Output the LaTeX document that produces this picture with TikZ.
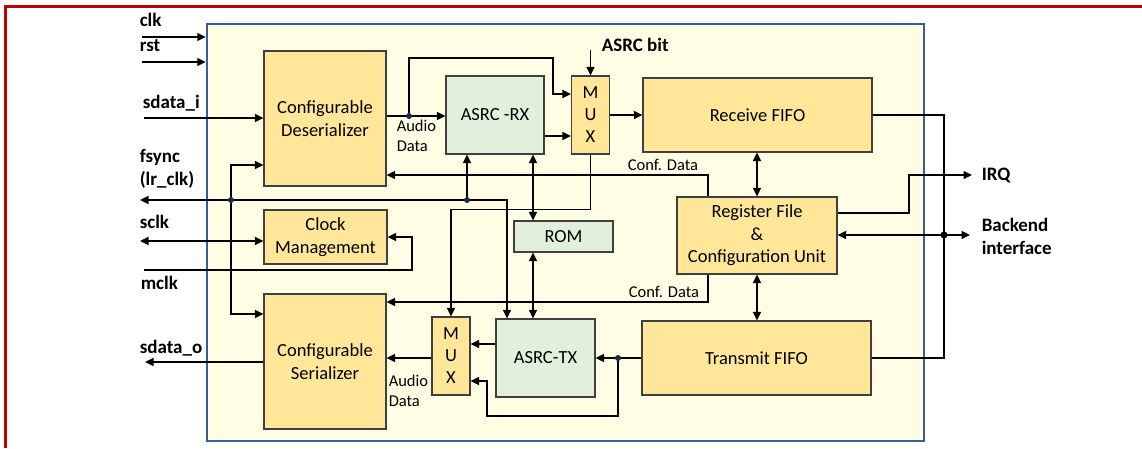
\documentclass[tikz,border=0pt]{standalone}
\usepackage{fontspec}
\setmainfont{Carlito}
\usepackage{xcolor}
\usepackage{tikz}
\usetikzlibrary{arrows.meta}
\definecolor{blockfill}{HTML}{FFE699}
\definecolor{asrcfill}{HTML}{E2EFDA}
\definecolor{corefill}{HTML}{FFFEE4}
\definecolor{coreline}{HTML}{3A5C9C}
\definecolor{frameline}{HTML}{C00000}
\definecolor{blockline}{HTML}{3F3F3F}
\definecolor{dotfill}{HTML}{1B2A4A}
\tikzset{
    blocknode/.style = {rectangle, draw=blockline, fill=blockfill, line width=1.1pt, align=center, inner sep=0pt, font=\fontsize{18.5}{22.5}\selectfont},
    asrcnode/.style = {blocknode, fill=asrcfill},
    muxnode/.style = {blocknode, minimum width=38pt, minimum height=78pt, font=\fontsize{18.5}{22}\selectfont},
    pinlabel/.style = {anchor=west, inner sep=0pt, align=left, font=\fontsize{19}{23}\selectfont\bfseries},
    smalllabel/.style = {anchor=west, inner sep=0pt, align=left, font=\fontsize{16.5}{19.5}\selectfont},
}
\begin{document}
\begin{tikzpicture}[
	x=1pt, y=-1pt,
	line width=1.5pt,
	>={Triangle[length=8.5pt,width=8pt]}
]
\tikzset{
    wire/.style = {-},
    sig/.style = {->},
    sigb/.style = {<->},
    jdot/.style = {circle, fill=dotfill, inner sep=0pt, minimum size=6pt}
}
\useasboundingbox (0,0) rectangle (1142,448);
\draw[frameline, line width=3pt] (5.5,448) -- (5.5,6) -- (1142,6);
\node[rectangle, draw=coreline, fill=corefill, line width=2.5pt, minimum width=717pt, minimum height=417pt, inner sep=0pt] at (565.5,232.5) (core) {};
%
\node[blocknode, minimum width=122pt, minimum height=135pt] at (325,118.5) (deser) {Configurable\\Deserializer};
\node[blocknode, minimum width=123pt, minimum height=54pt] at (325.5,237) (clkm) {Clock\\Management};
\node[blocknode, minimum width=122pt, minimum height=135pt] at (325,361.5) (ser) {Configurable\\Serializer};
\node[asrcnode, minimum width=98pt, minimum height=78pt] at (495,115) (asrcrx) {ASRC -RX};
\node[muxnode] at (590.5,115) (muxrx) {M\\U\\X};
\node[blocknode, minimum width=229pt, minimum height=74pt] at (757.5,115) (rxfifo) {Receive FIFO};
\node[asrcnode, minimum width=99pt, minimum height=31pt] at (563.5,236.5) (rom) {ROM};
\node[blocknode, minimum width=160pt, minimum height=77pt] at (757,235.5) (regfile) {Register File\\\&\\Configuration Unit};
\node[muxnode] at (451,356) (muxtx) {M\\U\\X};
\node[asrcnode, minimum width=99pt, minimum height=78pt] at (545.5,358) (asrctx) {ASRC-TX};
\node[blocknode, minimum width=229pt, minimum height=74pt] at (756.5,358) (txfifo) {Transmit FIFO};
%
\coordinate (clkin) at (142,37);
\coordinate (rstin) at (142,62);
\coordinate (sdin) at (144,118);
\coordinate (fsout) at (140,200);
\coordinate (fsturn) at (507,200);
\coordinate (sclkout) at (140,241);
\coordinate (mclkin) at (144,270);
\coordinate (sdout) at (145,362);
\coordinate (asrcbit) at (590.5,50);
\coordinate (irq) at (972,175);
\coordinate (backend) at (970,235);
\coordinate (ja) at (409,116);
\coordinate (jb) at (231,200);
\coordinate (jc) at (467,200);
\coordinate (jd) at (944,235);
\coordinate (je) at (618,358);
%
\node[pinlabel] at (139,20) {clk};
\node[pinlabel] at (139,46) {rst};
\node[pinlabel] at (142,103) {sdata\_i};
\node[pinlabel] at (139,169) {fsync\\(lr\_clk)};
\node[pinlabel] at (139,222) {sclk};
\node[pinlabel] at (140,283) {mclk};
\node[pinlabel] at (139,348) {sdata\_o};
\node[pinlabel] at (601,45) {ASRC bit};
\node[pinlabel] at (981,175) {IRQ};
\node[pinlabel] at (981,236) {Backend\\interface};
\node[smalllabel] at (396,136) {Audio\\Data};
\node[smalllabel] at (388,391) {Audio\\Data};
\node[smalllabel] at (627,165) {Conf. Data};
\node[smalllabel] at (628,292) {Conf. Data};
%
\draw[sig] (clkin) -- (clkin -| core.west);
\draw[sig] (rstin) -- (rstin -| core.west);
\draw[sig] (sdin) -- (sdin -| deser.west);
\draw[sigb] (fsout) -- (fsturn) -- (fsturn |- asrctx.north);
\draw[sig] (jb) |- (deser.west |- 0,165);
\draw[sig] (jb) |- (ser.west |- 0,314);
\draw[sig] (jc) -- (jc |- asrcrx.south);
\draw[sigb] (sclkout) -- (sclkout -| clkm.west);
\draw[sig] (mclkin) -| (412,237) -- (clkm.east |- 0,237);
\draw[sig] (sdout -| ser.west) -- (sdout);
%
\draw[sig] (ja -| deser.east) -- (ja -| asrcrx.west);
\draw[sig] (ja) |- (553,58) |- (muxrx.west |- 0,94);
\draw[sig] (asrcrx.east |- 0,136) -- (muxrx.west |- 0,136);
\draw[sig] (asrcbit) -- (muxrx.north);
\draw[sig] (muxrx.east) -- (rxfifo.west);
\draw[sig] (muxrx.south) -- ++(0,55) -| (muxtx.north);
\draw[sigb] (asrcrx.south -| 533,0) -- (rom.north -| 533,0);
\draw[sigb] (rom.south -| 533,0) -- (asrctx.north -| 533,0);
%
\draw[sig] (regfile.north -| 708,0) |- (deser.east |- 0,175);
\draw[sig] (regfile.south -| 708,0) |- (ser.east |- 0,302);
\draw[sigb] (rxfifo.south -| regfile.north) -- (regfile.north);
\draw[sigb] (regfile.south) -- (regfile.south |- txfifo.north);
\draw[sig] (regfile.east |- 0,213) -| (909,175) -- (irq);
\draw[sigb] (jd -| regfile.east) -- (backend);
\draw[wire] (rxfifo.east) -| (jd);
\draw[wire] (txfifo.east) -| (jd);
%
\draw[sig] (txfifo.west) -- (asrctx.east);
\draw[sig] (je) |- (487,416) |- (muxtx.east |- 0,381);
\draw[sig] (asrctx.west |- 0,344) -- (muxtx.east |- 0,344);
\draw[sig] (muxtx.west |- 0,358) -- (ser.east |- 0,358);
%
\node[jdot] at (ja) {};
\node[jdot] at (jb) {};
\node[jdot] at (jc) {};
\node[jdot] at (je) {};
\node[jdot, fill=black, minimum size=7pt] at (jd) {};
\end{tikzpicture}
\end{document}
